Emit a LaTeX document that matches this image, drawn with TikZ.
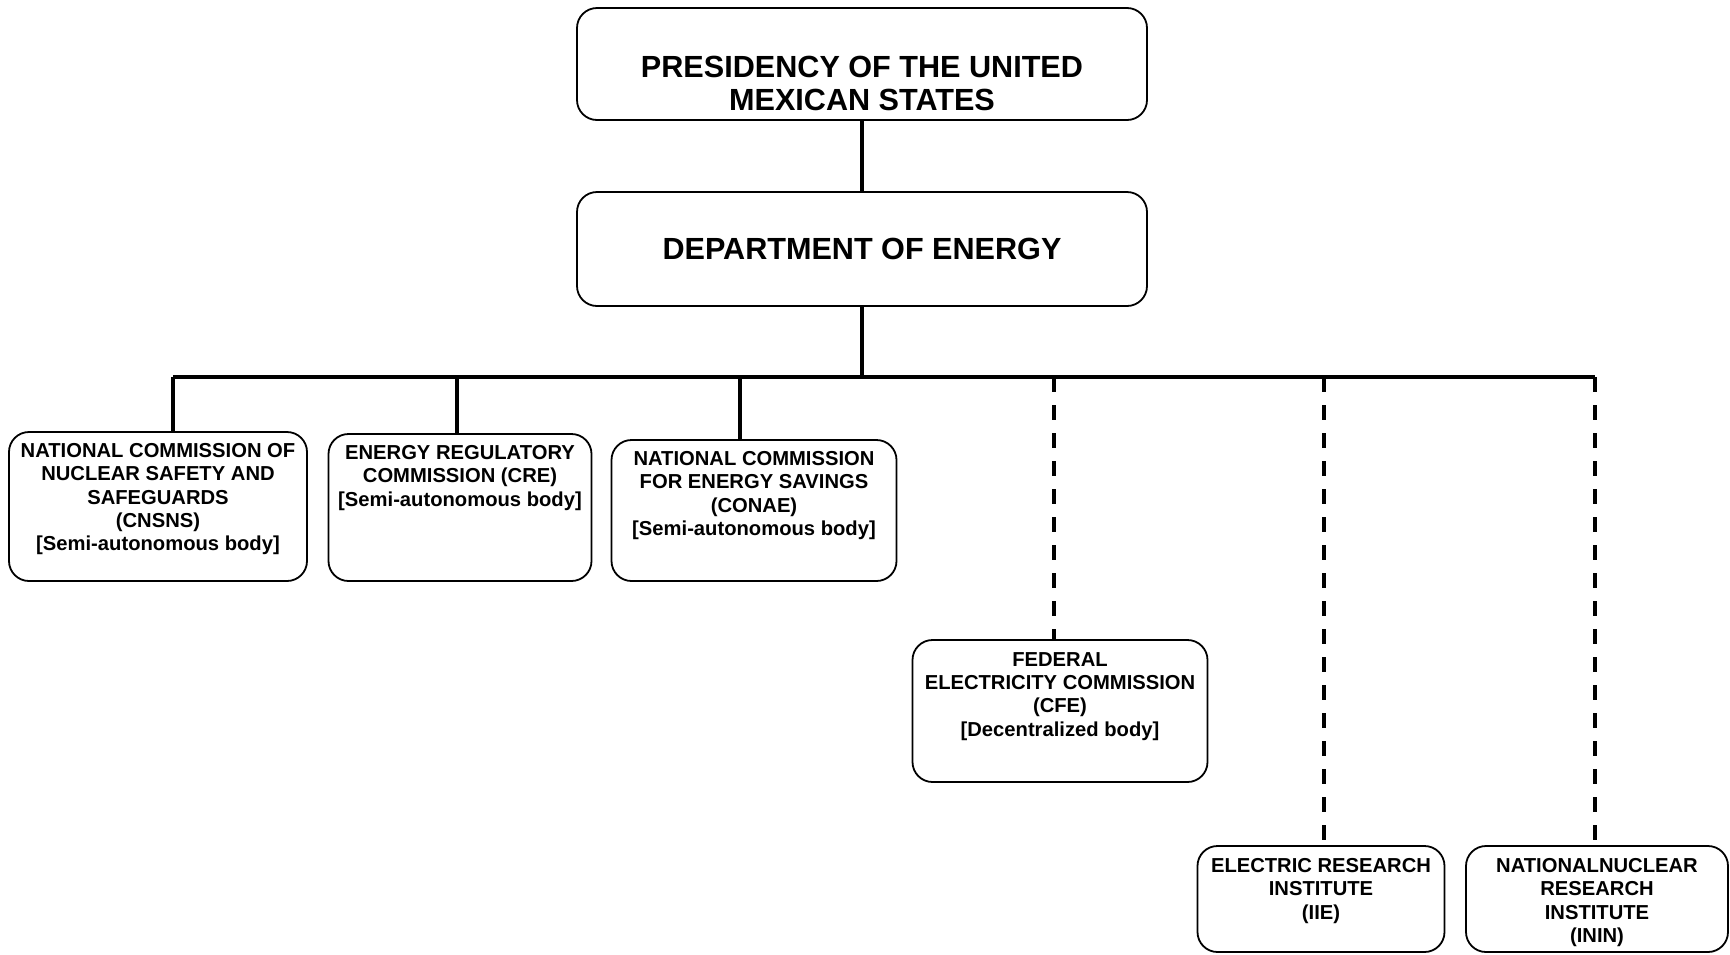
\documentclass[tikz,border=0pt]{standalone}
\usepackage{fontspec}
\setmainfont{Liberation Sans}
\usetikzlibrary{positioning}

\begin{document}
\begin{tikzpicture}[x=1pt, y=-1pt,
  box/.style = {draw, line width=1.8pt, rounded corners=20pt, inner sep=0pt},
  bigtext/.style = {font=\fontsize{30.6}{33}\selectfont\bfseries, align=center, inner sep=0pt},
  smalltext/.style = {font=\fontsize{20.2}{23.3}\selectfont\bfseries, align=center, inner sep=0pt},
  link/.style = {line width=3.6pt},
  looselink/.style = {line width=3.6pt, dash pattern=on 15pt off 13pt}]
  \useasboundingbox (0,0) rectangle (1730,954);

  % top of the chart
  \node[box, minimum width=570pt, minimum height=112pt] (pres) at (862,64) {};
  \node[bigtext] (presT) at (862,83) {PRESIDENCY OF THE UNITED\\MEXICAN STATES};
  \node[box, minimum width=570pt, minimum height=114pt] (dept) at (862,249) {};
  \node[bigtext] (deptT) at (862,249) {DEPARTMENT OF ENERGY};

  % semi-autonomous bodies
  \node[box, minimum width=298pt, minimum height=149pt] (cnsns) at (158,506.5) {};
  \node[smalltext, below=12pt of cnsns.north] (cnsnsT)
    {NATIONAL COMMISSION OF\\NUCLEAR SAFETY AND\\SAFEGUARDS\\(CNSNS)\\{[}Semi-autonomous body{]}};
  \node[box, minimum width=263pt, minimum height=147pt] (cre) at (460,507.5) {};
  \node[smalltext, below=12pt of cre.north] (creT)
    {ENERGY REGULATORY\\COMMISSION (CRE)\\{[}Semi-autonomous body{]}};
  \node[box, minimum width=285pt, minimum height=141pt] (conae) at (754,510.5) {};
  \node[smalltext, below=12pt of conae.north] (conaeT)
    {NATIONAL COMMISSION\\FOR ENERGY SAVINGS\\(CONAE)\\{[}Semi-autonomous body{]}};

  % decentralized body and institutes
  \node[box, minimum width=295pt, minimum height=142pt] (cfe) at (1060,711) {};
  \node[smalltext, below=13pt of cfe.north] (cfeT)
    {FEDERAL\\ELECTRICITY COMMISSION\\(CFE)\\{[}Decentralized body{]}};
  \node[box, minimum width=247pt, minimum height=106pt] (iie) at (1321,899) {};
  \node[smalltext, below=13pt of iie.north] (iieT)
    {ELECTRIC RESEARCH\\INSTITUTE\\(IIE)};
  \node[box, minimum width=262pt, minimum height=106pt] (inin) at (1597,899) {};
  \node[smalltext, below=13pt of inin.north] (ininT)
    {NATIONALNUCLEAR\\RESEARCH\\INSTITUTE\\(ININ)};

  % bus and its drops
  \coordinate (s1) at (173,377);
  \coordinate (s2) at (457,377);
  \coordinate (s3) at (740,377);
  \coordinate (s4) at (1054,377);
  \coordinate (s5) at (1324,377);
  \coordinate (s6) at (1595,377);

  \draw[link] (pres.south) -- (dept.north);
  \draw[link] (dept.south) -- (dept.south |- s1);
  \draw[line width=4pt] (s1) -- (s6);
  \draw[link] (s1) -- (s1 |- cnsns.north);
  \draw[link] (s2) -- (s2 |- cre.north);
  \draw[link] (s3) -- (s3 |- conae.north);
  \draw[looselink] (s4) -- (s4 |- cfe.north);
  \draw[looselink] (s5) -- (s5 |- iie.north);
  \draw[looselink] (s6) -- (s6 |- inin.north);
\end{tikzpicture}
\end{document}
